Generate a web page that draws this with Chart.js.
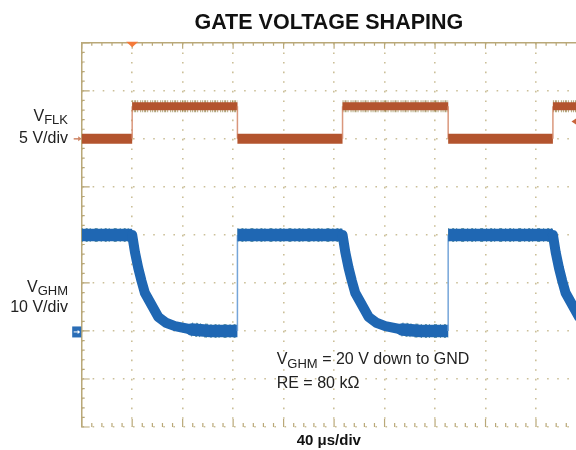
<!DOCTYPE html>
<html>
<head>
<meta charset="utf-8">
<script src="https://cdn.jsdelivr.net/npm/chart.js@4/dist/chart.umd.min.js"></script>
<style>
  html, body { margin: 0; padding: 0; background: #fff; }
  #wrap { width: 576px; height: 450px; }
</style>
</head>
<body>
<div id="wrap"><canvas id="scopeChart"></canvas></div>
<script>
// time axis in microseconds (40 us/div), visible part of the 10 div screen
const TIME_MAX = 391.7;
const TIME_STEP = 40;

// V_FLK, channel 1 (5 V/div)
const flkTime  = [0, 40, 40, 123.4, 123.4, 206.7, 206.7, 290.4, 290.4, 373.4, 373.4, 391.7];
const flkVolts = [0, 0, 3.4, 3.4, 0, 0, 3.4, 3.4, 0, 0, 3.4, 3.4];

// V_GHM, channel 2 (10 V/div), 20 V discharged to GND
const ghmTime  = [0, 40, 42.2, 44.8, 47.4, 50.1, 55.4, 60.7, 66.8, 73.9, 87.1, 101.6, 123.4,
                  123.4, 206.7, 208.9, 211.5, 214.1, 216.8, 222.1, 227.4, 233.5, 240.6, 253.8, 268.3, 290.4,
                  290.4, 373.4, 375.6, 378.2, 380.8, 383.5, 388.8, 394.1];
const ghmVolts = [20, 20, 16.4, 13.1, 10.4, 7.9, 5.4, 2.9, 1.7, 1.0, 0.3, 0, 0,
                  20, 20, 16.4, 13.1, 10.4, 7.9, 5.4, 2.9, 1.7, 1.0, 0.3, 0, 0,
                  20, 20, 16.4, 13.1, 10.4, 7.9, 5.4, 2.9];

const TRIGGER_TIME = 40;
const TRIGGER_LEVEL = 1.8;

const FONT = "'Liberation Sans', Arial, Helvetica, sans-serif";
const GRID_DOT = 'rgba(200, 188, 146, 0.95)';
const GRID_EDGE = '#b9a878';
const FLK_COLOR = '#b3542e';
const FLK_EDGE = 'rgba(214, 140, 110, 0.9)';
const FLK_NOISE = 'rgba(125, 105, 35, 0.6)';
const GHM_COLOR = '#1f67b3';
const GHM_EDGE = 'rgba(110, 160, 215, 0.95)';
const GHM_NOISE = 'rgba(15, 90, 100, 0.6)';
const CLEAR = 'rgba(0, 0, 0, 0)';

function toPoints(xs, ys) {
    return xs.map((x, i) => ({ x: x, y: ys[i] }));
}

function isVertical(c) {
    return Math.abs(c.p1.x - c.p0.x) < 0.5;
}

// flat or nearly flat parts of a trace (levels and the tail of the decay)
function isLevel(c) {
    return Math.abs(c.p1.y - c.p0.y) < 3;
}

// band width of the noisy traces; the switching edges stay thin
function flkWidth(c) {
    if (isVertical(c)) return 1.5;
    return flkVolts[c.p0DataIndex] > 1 ? 8 : 10;
}

function ghmWidth(c) {
    if (isVertical(c)) return 1.5;
    if (isLevel(c)) return 12.5;
    return 10;
}

function capStyle(c) {
    if (isVertical(c)) return 'butt';
    if (Math.abs(c.p1.y - c.p0.y) < 0.5) return 'butt';
    return 'round';
}

function drawSub(ctx, x, base, main, sub, align) {
    ctx.font = '16px ' + FONT;
    const w1 = ctx.measureText(main).width;
    ctx.font = '13px ' + FONT;
    const w2 = ctx.measureText(sub).width;
    const left = align === 'right' ? x - w1 - w2 : x;
    ctx.font = '16px ' + FONT;
    ctx.fillText(main, left, base);
    ctx.font = '13px ' + FONT;
    ctx.fillText(sub, left + w1, base + 3.5);
    return left + w1 + w2;
}

const scopeMarks = {
    id: 'scopeMarks',
    beforeDatasetsDraw(chart) {
        const { ctx, chartArea: a, scales: { x, y } } = chart;
        ctx.save();
        ctx.strokeStyle = GRID_EDGE;
        ctx.lineWidth = 1.2;
        ctx.beginPath();
        for (let t = 0; t <= TIME_MAX; t += TIME_STEP / 5) {
            const px = x.getPixelForValue(t);
            const major = t % TIME_STEP === 0;
            ctx.moveTo(px, a.top);
            ctx.lineTo(px, a.top + (major ? 6 : 3));
            ctx.moveTo(px, a.bottom);
            ctx.lineTo(px, a.bottom - (major ? 8 : 4));
        }
        for (let v = -30; v <= 10; v += 1) {
            const py = y.getPixelForValue(v);
            ctx.moveTo(a.left, py);
            ctx.lineTo(a.left + (v % 5 === 0 ? 8 : 3), py);
        }
        ctx.stroke();
        ctx.restore();
    },
    afterDraw(chart) {
        const { ctx, chartArea: a, scales: { x, y, y2 } } = chart;
        ctx.save();

        // trigger position
        const tx = x.getPixelForValue(TRIGGER_TIME);
        ctx.fillStyle = '#f47a3a';
        ctx.beginPath();
        ctx.moveTo(tx - 6, a.top - 1);
        ctx.lineTo(tx + 6, a.top - 1);
        ctx.lineTo(tx, a.top + 4.5);
        ctx.closePath();
        ctx.fill();

        // trigger level
        const ty = y.getPixelForValue(TRIGGER_LEVEL);
        ctx.fillStyle = '#c8643a';
        ctx.beginPath();
        ctx.moveTo(a.right - 4.5, ty);
        ctx.lineTo(a.right, ty - 3);
        ctx.lineTo(a.right, ty + 3);
        ctx.closePath();
        ctx.fill();

        // channel 1 ground
        const g1 = y.getPixelForValue(0);
        ctx.strokeStyle = '#cf8666';
        ctx.fillStyle = '#cf8666';
        ctx.lineWidth = 1.5;
        ctx.beginPath();
        ctx.moveTo(a.left - 8, g1);
        ctx.lineTo(a.left - 2, g1);
        ctx.stroke();
        ctx.beginPath();
        ctx.moveTo(a.left, g1);
        ctx.lineTo(a.left - 3.5, g1 - 2.5);
        ctx.lineTo(a.left - 3.5, g1 + 2.5);
        ctx.closePath();
        ctx.fill();

        // channel 2 ground
        const g2 = y2.getPixelForValue(0);
        ctx.fillStyle = '#2a6db6';
        ctx.fillRect(a.left - 9.5, g2 - 4.5, 9, 11);
        ctx.strokeStyle = '#ffffff';
        ctx.fillStyle = '#ffffff';
        ctx.lineWidth = 1;
        ctx.beginPath();
        ctx.moveTo(a.left - 8, g2 + 1);
        ctx.lineTo(a.left - 3, g2 + 1);
        ctx.stroke();
        ctx.beginPath();
        ctx.moveTo(a.left - 1.5, g2 + 1);
        ctx.lineTo(a.left - 4, g2 - 1);
        ctx.lineTo(a.left - 4, g2 + 3);
        ctx.closePath();
        ctx.fill();

        // channel labels
        ctx.fillStyle = '#222';
        ctx.textBaseline = 'alphabetic';
        drawSub(ctx, 68, 120.7, 'V', 'FLK', 'right');
        ctx.font = '16px ' + FONT;
        ctx.textAlign = 'right';
        ctx.fillText('5 V/div', 68, 143.3);
        ctx.textAlign = 'left';
        drawSub(ctx, 68, 291.7, 'V', 'GHM', 'right');
        ctx.font = '16px ' + FONT;
        ctx.textAlign = 'right';
        ctx.fillText('10 V/div', 68, 311.7);
        ctx.textAlign = 'left';

        // test conditions
        const end = drawSub(ctx, 276.7, 364.3, 'V', 'GHM', 'left');
        ctx.font = '16px ' + FONT;
        ctx.fillText(' = 20 V down to GND', end, 364.3);
        ctx.fillText('RE = 80 k\u03A9', 276.7, 388.3);
        ctx.restore();
    }
};

const ctx = document.getElementById('scopeChart').getContext('2d');
new Chart(ctx, {
    type: 'line',
    data: {
        datasets: [
            {
                label: 'VFLK',
                data: toPoints(flkTime, flkVolts),
                yAxisID: 'y',
                borderColor: FLK_COLOR,
                borderWidth: 9,
                borderCapStyle: 'butt',
                pointRadius: 0,
                tension: 0,
                segment: {
                    borderWidth: flkWidth,
                    borderColor: c => isVertical(c) ? FLK_EDGE : FLK_COLOR,
                    borderCapStyle: capStyle
                }
            },
            {
                label: 'VGHM',
                data: toPoints(ghmTime, ghmVolts),
                yAxisID: 'y2',
                borderColor: GHM_COLOR,
                borderWidth: 12.5,
                borderCapStyle: 'butt',
                borderJoinStyle: 'round',
                pointRadius: 0,
                tension: 0,
                segment: {
                    borderWidth: ghmWidth,
                    borderColor: c => isVertical(c) ? GHM_EDGE : GHM_COLOR,
                    borderCapStyle: capStyle
                }
            },
            {
                label: 'VFLK noise',
                data: toPoints(flkTime, flkVolts),
                yAxisID: 'y',
                borderColor: FLK_NOISE,
                borderWidth: 12,
                borderDash: [1, 1, 2, 1, 1, 2, 1, 1],
                pointRadius: 0,
                tension: 0,
                segment: {
                    borderColor: c => !isVertical(c) && flkVolts[c.p0DataIndex] > 1 ? FLK_NOISE : CLEAR
                }
            },
            {
                label: 'VGHM noise',
                data: toPoints(ghmTime, ghmVolts),
                yAxisID: 'y2',
                borderColor: GHM_NOISE,
                borderWidth: 14,
                borderDash: [1, 3, 2, 2, 1, 4, 3, 3],
                pointRadius: 0,
                tension: 0,
                segment: {
                    borderColor: c => !isVertical(c) && isLevel(c) ? GHM_NOISE : CLEAR
                }
            }
        ]
    },
    options: {
        responsive: true,
        maintainAspectRatio: false,
        animation: false,
        layout: {
            padding: { left: 81.7, right: 0, top: 0, bottom: 0 }
        },
        scales: {
            x: {
                type: 'linear',
                min: 0,
                max: TIME_MAX,
                ticks: { stepSize: TIME_STEP, display: false, includeBounds: false },
                grid: { color: GRID_DOT, lineWidth: 1.6, drawTicks: false },
                border: { display: false, dash: [1.6, 8.0] },
                title: {
                    display: true,
                    text: '40 \u03BCs/div',
                    color: '#111',
                    font: { family: FONT, size: 15, weight: 'bold' },
                    padding: { top: 5, bottom: 0 }
                }
            },
            y: {
                position: 'left',
                min: -30,
                max: 10,
                ticks: { stepSize: 5, display: false },
                grid: {
                    drawTicks: false,
                    color: c => c.tick && c.tick.value === 10 ? GRID_EDGE : GRID_DOT,
                    lineWidth: c => c.tick && c.tick.value === 10 ? 1.5 : 1.6
                },
                border: {
                    display: true,
                    color: GRID_EDGE,
                    width: 1.5,
                    dash: c => c.tick && c.tick.value !== 10 ? [1.6, 8.5] : []
                }
            },
            y2: {
                display: false,
                min: -20,
                max: 60
            }
        },
        plugins: {
            legend: { display: false },
            tooltip: { enabled: false },
            title: {
                display: true,
                text: 'GATE VOLTAGE SHAPING',
                fullSize: false,
                color: '#111',
                font: { family: FONT, size: 21.5, weight: 'bold' },
                padding: { top: 10, bottom: 7 }
            }
        }
    },
    plugins: [scopeMarks]
});
</script>
</body>
</html>
